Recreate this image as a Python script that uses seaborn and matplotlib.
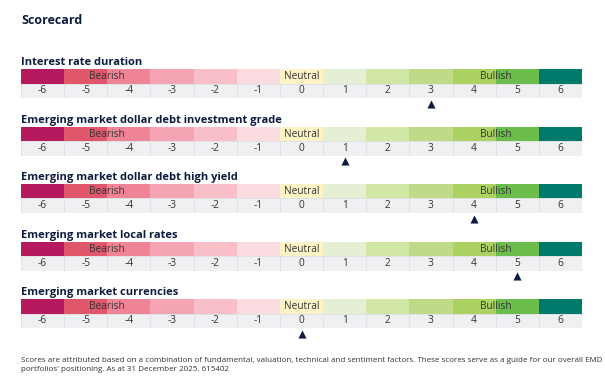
import matplotlib
matplotlib.use("Agg")
import matplotlib.pyplot as plt
from matplotlib.colors import ListedColormap
import numpy as np
import seaborn as sns

# ---- data ----
categories = [
    "Interest rate duration",
    "Emerging market dollar debt investment grade",
    "Emerging market dollar debt high yield",
    "Emerging market local rates",
    "Emerging market currencies",
]
scores = [3, 1, 4, 5, 0]
tick_labels = ["-6", "-5", "-4", "-3", "-2", "-1", "0", "1", "2", "3", "4", "5", "6"]
zone_labels = ["Bearish", "Neutral", "Bullish"]
zone_positions = [2.0, 6.5, 11.0]  # cell-index positions (boundary / centre)
title = "Scorecard"
footnote = ("Scores are attributed based on a combination of fundamental, valuation, technical and sentiment factors. "
            "These scores serve as a guide for our overall EMD\nportfolios' positioning. As at 31 December 2025. 615402")

# ---- style ----
cell_colors = ["#b5195e", "#e0566b", "#ef8497", "#f4a4b2", "#f8bfc8", "#fbdce1",
               "#fef3c7", "#e4efd3", "#d2e6a6", "#bfdb87", "#acd264", "#6bbe4c", "#007a6a"]
num_bg = "#eff0f1"
line_col = "#dfe1e4"
navy = "#0d1b3e"
txt = "#333333"

sns.set_theme(style="white")
plt.rcParams["font.family"] = ["Open Sans", "DejaVu Sans"]

W, H = 605, 380
fig = plt.figure(figsize=(W / 100, H / 100), dpi=100)

fig.text(21 / W, 1 - 20 / H, title, fontsize=9, fontweight="bold", color=navy, va="center", ha="left")

left_px, width_px = 21, 561
row_h = 14.5
n = len(tick_labels)
idx = np.arange(n).reshape(1, -1)

for i, (cat, sc) in enumerate(zip(categories, scores)):
    top = 69 + 57.5 * i
    # colour row
    axc = fig.add_axes([left_px / W, 1 - (top + row_h) / H, width_px / W, row_h / H])
    sns.heatmap(idx, ax=axc, cmap=ListedColormap(cell_colors), vmin=-0.5, vmax=n - 0.5,
                cbar=False, linewidths=0, xticklabels=False, yticklabels=False)
    for lab, pos in zip(zone_labels, zone_positions):
        axc.text(pos, 0.55, lab, ha="center", va="center", fontsize=7.3, color=txt)
    axc.text(0, -0.42, cat, ha="left", va="center", fontsize=8, fontweight="bold", color=navy)

    # number row
    axn = fig.add_axes([left_px / W, 1 - (top + 2 * row_h) / H, width_px / W, row_h / H])
    sns.heatmap(np.zeros((1, n)), ax=axn, cmap=ListedColormap([num_bg]), cbar=False,
                annot=np.array([tick_labels]), fmt="", annot_kws={"fontsize": 7.3, "color": txt},
                linewidths=0.7, linecolor=line_col, xticklabels=False, yticklabels=False)
    axn.scatter([tick_labels.index(str(sc)) + 0.5], [1.38], marker="^", s=34, color=navy,
                clip_on=False, zorder=5, linewidths=0)
    for a in (axc, axn):
        a.set_xlabel("")
        a.set_ylabel("")

fig.text(21 / W, 1 - 365 / H, footnote, fontsize=5.75, color=txt, va="center", ha="left", linespacing=1.5)

fig.savefig("out.png", dpi=100)
